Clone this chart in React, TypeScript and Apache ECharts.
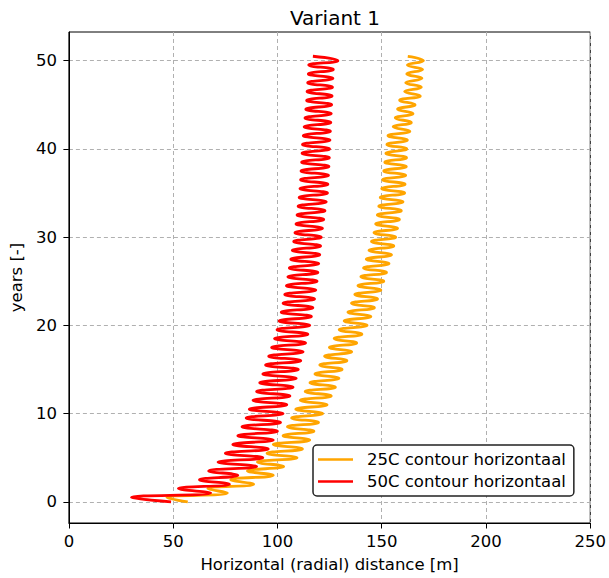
import React, { useEffect, useRef } from "react";
import * as echarts from "echarts";

const title = "Variant 1";
const xAxisName = "Horizontal (radial) distance [m]";
const yAxisName = "years [-]";
const seriesNames = ["25C contour horizontaal", "50C contour horizontaal"];
const xTicks = [0, 50, 100, 150, 200, 250];
const yTicks = [0, 10, 20, 30, 40, 50];

// outer (right) extremes at whole years, inner (left) extremes at half years
const years = Array.from({ length: 51 }, (_, i) => i);

const orangeRight = [
  57, 76, 88.6, 98, 103, 109.4, 112, 115.5, 117.5, 119.7,
  121.7, 123.8, 125.8, 127.8, 129.5, 131, 133.3, 135.6, 138, 140.5,
  143, 144.8, 146.5, 148, 149.6, 151, 152.3, 153.5, 154.7, 155.8,
  156.7, 157.6, 158.5, 159.4, 160.2, 161, 161.2, 161.5, 161.8, 161.9,
  162, 162.3, 163.5, 164.2, 165, 166, 168.5, 169, 169.3, 169.6, 170,
];
const orangeLeft = [
  47, 66.6, 77.6, 85.6, 90.4, 95, 98, 102.7, 104.8, 106.8,
  108.8, 111, 113.3, 115.6, 118, 120.3, 122.6, 124.9, 127.2, 129.6,
  132, 133.8, 135.5, 137.1, 138.6, 140, 141.3, 142.6, 143.9, 145.1,
  146.3, 147.1, 147.9, 148.6, 149.3, 150, 150.5, 151, 151.5, 152,
  152.5, 153, 155.5, 156.5, 157.6, 158.6, 161, 161.5, 162, 162.3, 162.5,
];
const redRight = [
  49, 68, 77, 81, 90, 93, 95.6, 98, 100, 101.5,
  102.7, 104.5, 106, 107.5, 109, 110, 111.2, 112.3, 113.5, 114.6,
  115.5, 116.3, 117, 117.8, 118.4, 119, 119.4, 119.8, 120.3, 120.7,
  121, 121.6, 122.2, 122.8, 123.4, 124, 124.2, 124.5, 124.7, 124.9,
  125, 125.2, 125.4, 125.6, 125.8, 126, 126.2, 126.4, 126.6, 126.8, 129,
];
const redLeft = [
  30, 52.5, 62.6, 67, 71.5, 75, 78.6, 81, 83, 85,
  86.5, 88.3, 90, 91.5, 93, 94.3, 95.8, 97.2, 98.6, 99.8,
  100.8, 101.8, 102.7, 103.5, 104.3, 105, 105.7, 106.4, 107.1, 107.8,
  108.4, 108.9, 109.4, 109.9, 110.4, 110.8, 111.1, 111.3, 111.6, 111.8,
  112, 112.4, 112.8, 113.2, 113.6, 114, 114.2, 114.5, 114.8, 115, 117,
];

function zigzag(right: number[], left: number[]) {
  const pts: [number, number][] = [];
  years.forEach((y, i) => {
    pts.push([right[i], y]);
    pts.push([left[i], y + 0.5]);
  });
  return pts;
}

const FONT = "DejaVu Sans";
const FS = 16.5;

export default function App() {
  const ref = useRef<HTMLDivElement>(null);
  useEffect(() => {
    if (!ref.current) return;
    const chart = echarts.init(ref.current, undefined, { renderer: "svg" });
    chart.setOption({
      animation: false,
      backgroundColor: "#fff",
      textStyle: { fontFamily: FONT },
      title: {
        text: title,
        left: 330,
        textAlign: "center",
        top: 3,
        textStyle: { fontFamily: FONT, fontSize: 20, fontWeight: "normal", color: "#000" },
      },
      grid: {
        left: 66.5,
        right: 14.5,
        top: 32,
        bottom: 55,
        show: true,
        borderColor: "#000",
        borderWidth: 1,
        backgroundColor: "transparent",
      },
      legend: {
        left: 313,
        top: 445,
        orient: "vertical",
        itemGap: 5,
        padding: [6, 8, 6, 5],
        borderColor: "#222",
        borderWidth: 1.5,
        borderRadius: 4,
        backgroundColor: "#fff",
        icon: "rect",
        itemWidth: 35,
        itemHeight: 2.5,
        textStyle: { fontFamily: FONT, fontSize: FS, color: "#000", padding: [0, 0, 0, 9] },
        data: seriesNames,
      },
      xAxis: {
        type: "value",
        min: 0,
        max: 250,
        interval: 50,
        name: xAxisName,
        nameLocation: "middle",
        nameGap: 33,
        nameTextStyle: { fontFamily: FONT, fontSize: FS, color: "#000" },
        axisLine: { show: true, onZero: false, lineStyle: { color: "#000", width: 1 } },
        axisTick: { show: true, length: 5.5, lineStyle: { color: "#000" } },
        axisLabel: { fontFamily: FONT, fontSize: FS, color: "#000", margin: 10, customValues: xTicks },
        splitLine: { show: true, lineStyle: { color: "#b0b0b0", type: [4, 3], width: 1 } },
      },
      yAxis: {
        type: "value",
        min: -2.4,
        max: 53.25,
        name: yAxisName,
        nameLocation: "middle",
        nameGap: 39,
        nameTextStyle: { fontFamily: FONT, fontSize: FS, color: "#000" },
        axisLine: { show: true, onZero: false, lineStyle: { color: "#000", width: 1 } },
        axisTick: { show: true, length: 5.5, lineStyle: { color: "#000" }, customValues: yTicks },
        axisLabel: { fontFamily: FONT, fontSize: FS, color: "#000", margin: 12, customValues: yTicks },
        splitLine: { show: true, lineStyle: { color: "#b0b0b0", type: [4, 3], width: 1 } },
      },
      series: [
        {
          name: seriesNames[0],
          type: "line",
          data: zigzag(orangeRight, orangeLeft),
          symbol: "none",
          smooth: 0.5,
          lineStyle: { color: "#ffa500", width: 2.8 },
          itemStyle: { color: "#ffa500" },
          z: 2,
        },
        {
          name: seriesNames[1],
          type: "line",
          data: zigzag(redRight, redLeft),
          symbol: "none",
          smooth: 0.5,
          lineStyle: { color: "#ff0000", width: 2.8 },
          itemStyle: { color: "#ff0000" },
          z: 3,
        },
      ],
    });
    return () => chart.dispose();
  }, []);
  return (
    <div
      ref={ref}
      style={{ position: "fixed", left: 0, top: 0, width: 609, height: 578 }}
    />
  );
}
